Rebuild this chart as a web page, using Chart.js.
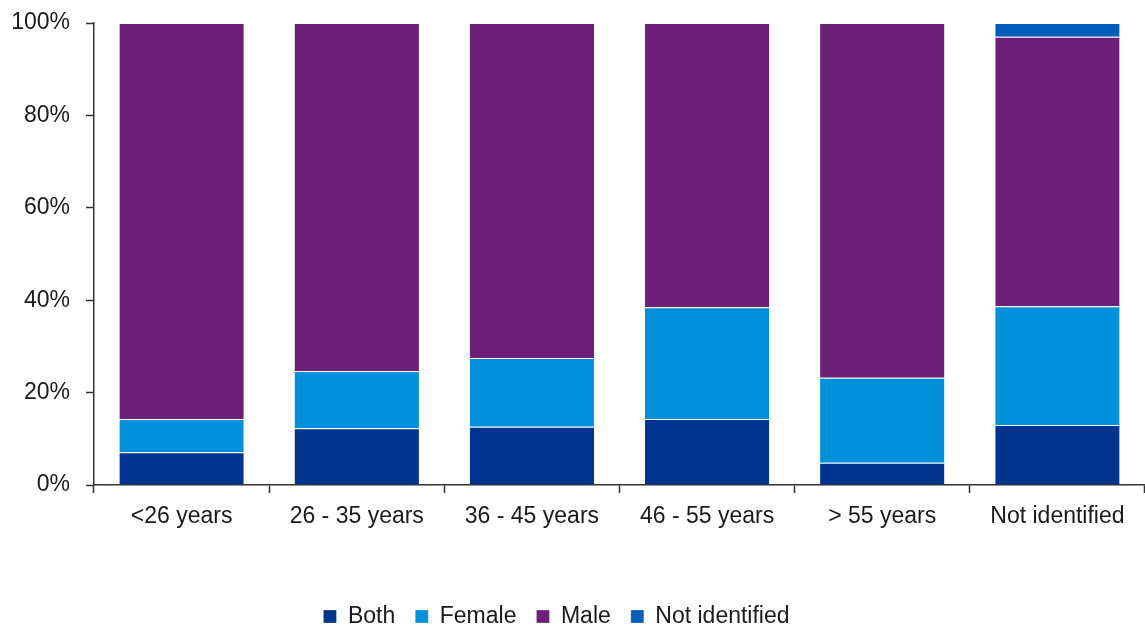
<!DOCTYPE html>
<html>
<head>
<meta charset="utf-8">
<script src="https://cdn.jsdelivr.net/npm/chart.js@4/dist/chart.umd.min.js"></script>
<style>
  html, body { margin: 0; padding: 0; background: #fff; }
  #wrap { width: 1145px; height: 626px; }
</style>
</head>
<body>
<div id="wrap"><canvas id="ageChart"></canvas></div>
<script>
// Age groups along the x axis
const ageGroups = ["<26 years", "26 - 35 years", "36 - 45 years", "46 - 55 years", "> 55 years", "Not identified"];
// Share of each gender group per age band (%)
const bothShare = [7.1, 12.3, 12.6, 14.3, 4.8, 13.0];
const femaleShare = [7.2, 12.4, 14.9, 24.2, 18.4, 25.7];
const maleShare = [85.7, 75.3, 72.5, 61.5, 76.8, 58.3];
const notIdentifiedShare = [0, 0, 0, 0, 0, 3.0];
const yTicks = [0, 20, 40, 60, 80, 100];

const fontFamily = "'Liberation Sans', Arial, sans-serif";
const fontSize = 23;
const axisColor = "#333333";
const textColor = "#1a1a1a";

// Helper to build one stacked segment
function makeSeries(label, data, color) {
  return {
    label: label,
    data: data,
    backgroundColor: color,
    borderColor: "#ffffff",
    borderWidth: { top: 1, left: 0, right: 0, bottom: 0 },
    borderSkipped: false,
    barPercentage: 0.71,
    categoryPercentage: 1.0,
  };
}

// Keep the legend short so it sits near the bottom edge, nudged a bit left
const legendPlacement = {
  id: "legendPlacement",
  beforeInit(chart) {
    const fit = chart.legend.fit;
    chart.legend.fit = function () {
      fit.call(this);
      this.height = 41;
    };
  },
  afterLayout(chart) {
    chart.legend.right -= 32;
  },
};

const ctx = document.getElementById("ageChart").getContext("2d");
new Chart(ctx, {
  type: "bar",
  data: {
    labels: ageGroups,
    datasets: [
      makeSeries("Both", bothShare, "#00338d"),
      makeSeries("Female", femaleShare, "#0091da"),
      makeSeries("Male", maleShare, "#6d2077"),
      makeSeries("Not identified", notIdentifiedShare, "#005eb8"),
    ],
  },
  options: {
    responsive: true,
    maintainAspectRatio: false,
    animation: false,
    layout: { padding: { top: 23, left: 0, right: 0, bottom: 0 } },
    scales: {
      x: {
        stacked: true,
        grid: {
          drawOnChartArea: false,
          drawTicks: true,
          tickLength: 8,
          tickWidth: 1.5,
          color: axisColor,
          offset: true,
        },
        border: { color: axisColor, width: 1.5 },
        ticks: {
          color: textColor,
          font: { family: fontFamily, size: fontSize },
          padding: 10,
        },
        afterFit: (scale) => { scale.height = 100; },
      },
      y: {
        stacked: true,
        min: 0,
        max: 100,
        afterBuildTicks: (scale) => {
          scale.ticks = yTicks.map((v) => ({ value: v }));
        },
        grid: {
          drawOnChartArea: false,
          drawTicks: true,
          tickLength: 8,
          tickWidth: 1.5,
          color: axisColor,
        },
        border: { color: axisColor, width: 1.5 },
        ticks: {
          color: textColor,
          font: { family: fontFamily, size: fontSize },
          padding: 16,
          callback: (v) => v + "%",
        },
        afterFit: (scale) => {
          scale.width = 94;
          scale.paddingTop = 0;
          scale.paddingBottom = 0;
        },
      },
    },
    plugins: {
      tooltip: { enabled: false },
      legend: {
        position: "bottom",
        labels: {
          color: textColor,
          font: { family: fontFamily, size: fontSize },
          boxWidth: 13,
          boxHeight: 13,
          padding: 20,
        },
      },
    },
  },
  plugins: [legendPlacement],
});
</script>
</body>
</html>
